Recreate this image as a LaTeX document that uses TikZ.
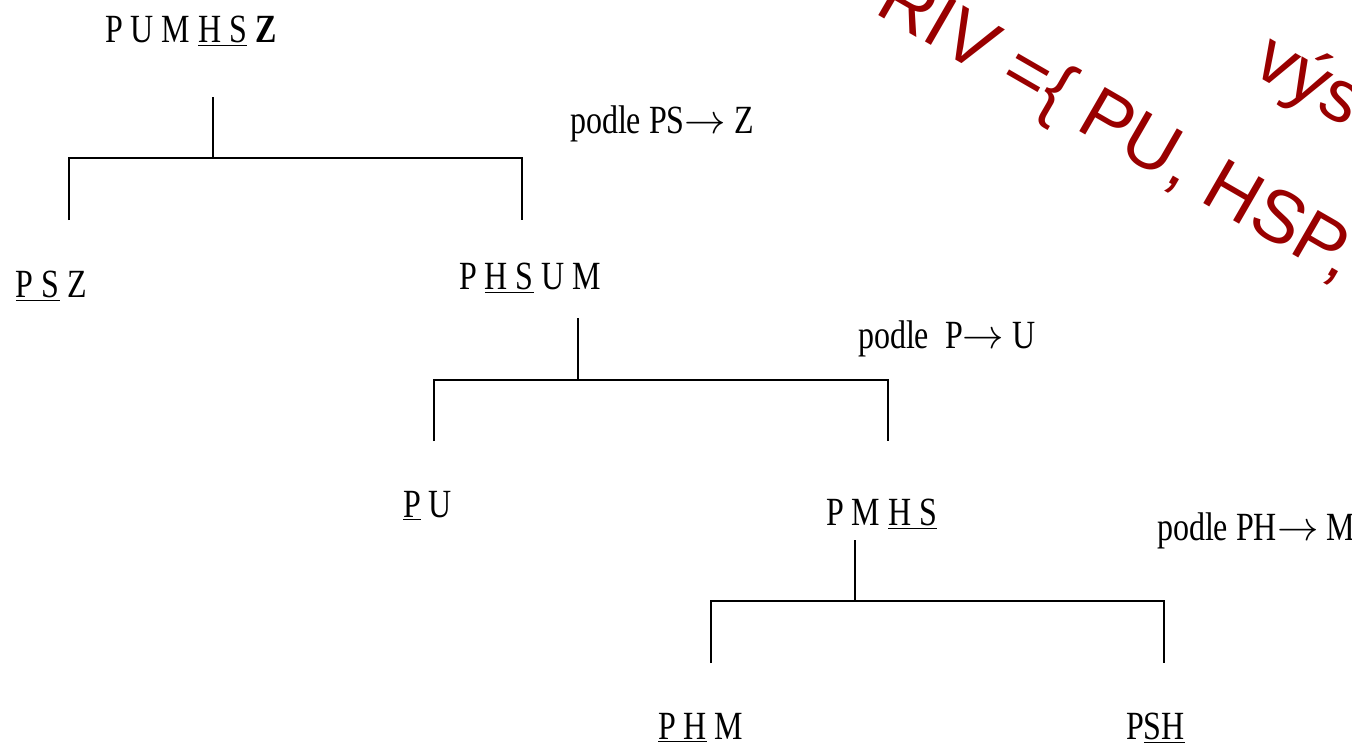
\documentclass[tikz,border=0pt]{standalone}
\usepackage{fontspec}
\setmainfont{Liberation Serif}[FakeStretch=0.8]
\newfontfamily\stampfont{Liberation Sans}
\definecolor{stampred}{HTML}{990000}
\tikzset{
  attrs/.style={anchor=base west, font=\fontsize{20}{24}\selectfont},
  stamp/.style={anchor=base west, rotate=-30, text=stampred, font=\stampfont\fontsize{37}{44}\selectfont},
  bracket/.style={draw=black, line width=0.6pt}
}
\begin{document}
\begin{tikzpicture}[x=0.5pt, y=-0.5pt, inner sep=0pt, outer sep=0pt]
\useasboundingbox (0,0) rectangle (1352,746);
% relations
\node[attrs] (pumhsz) at (105,42) {P U M \underline{H S} \textbf{Z}};
\node[attrs] (psz) at (16,297) {\underline{P S} Z};
\node[attrs] (phsum) at (459,289) {P \underline{H S} U M};
\node[attrs] (pu) at (403,517) {\underline{P} U};
\node[attrs] (pmhs) at (826,525) {P M \underline{H S}};
\node[attrs] (phm) at (658,739) {\underline{P H} M};
\node[attrs] (psh) at (1126,739) {P\underline{SH}};
% dependencies
\node[attrs] (dep1) at (570,133) {podle PS$\rightarrow$ Z};
\node[attrs] (dep2) at (858,348) {podle~ P$\rightarrow$ U};
\node[attrs] (dep3) at (1157,540) {podle PH$\rightarrow$ M};
% brackets
\coordinate (s1) at (213,97);   \coordinate (j1) at (213,158);
\coordinate (l1) at (69,220);   \coordinate (r1) at (522,220);
\coordinate (s2) at (578,318);  \coordinate (j2) at (578,380);
\coordinate (l2) at (434,441);  \coordinate (r2) at (888,441);
\coordinate (s3) at (855,540);  \coordinate (j3) at (855,601);
\coordinate (l3) at (711,663);  \coordinate (r3) at (1164,663);
\path[bracket] (s1) -- (j1) (l1) |- (j1) -| (r1);
\path[bracket] (s2) -- (j2) (l2) |- (j2) -| (r2);
\path[bracket] (s3) -- (j3) (l3) |- (j3) -| (r3);
% stamp
\begin{scope}
  \clip (0,0) rectangle (1352,746);
  \node[stamp] (riv) at (873,12) {RIV =\{ PU, HSP,};
  \node[stamp] (vys) at (1250,72) {výs};
\end{scope}
\end{tikzpicture}
\end{document}
